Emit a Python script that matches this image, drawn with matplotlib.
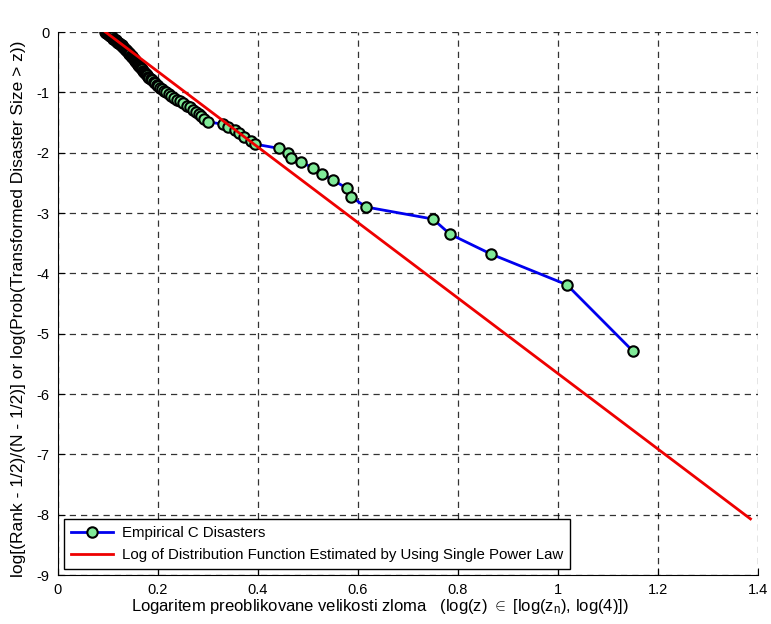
import matplotlib
matplotlib.use('Agg')
import matplotlib.pyplot as plt

plt.rcParams['font.family'] = ['Liberation Sans', 'DejaVu Sans']
plt.rcParams['mathtext.fontset'] = 'custom'
plt.rcParams['mathtext.rm'] = 'Liberation Sans'
plt.rcParams['mathtext.it'] = 'Liberation Sans'
plt.rcParams['axes.unicode_minus'] = False

# empirical points, largest rank (smallest disaster) first
log_z = [0.095, 0.097, 0.098, 0.100, 0.101, 0.103, 0.104, 0.106, 0.108, 0.109,
         0.111, 0.112, 0.114, 0.116, 0.117, 0.119, 0.121, 0.122, 0.124, 0.126,
         0.128, 0.129, 0.131, 0.133, 0.134, 0.136, 0.137, 0.139, 0.140, 0.142,
         0.143, 0.145, 0.146, 0.148, 0.149, 0.151, 0.152, 0.154, 0.155, 0.157,
         0.158, 0.160, 0.161, 0.163, 0.165, 0.166, 0.168, 0.170, 0.172, 0.174,
         0.176, 0.178, 0.180, 0.183, 0.186, 0.189, 0.192, 0.195, 0.198, 0.201,
         0.204, 0.208, 0.212, 0.217, 0.222, 0.227, 0.233, 0.239, 0.245, 0.251,
         0.258, 0.265, 0.271, 0.277, 0.282, 0.287, 0.292, 0.301, 0.331, 0.340,
         0.355, 0.362, 0.372, 0.386, 0.395, 0.443, 0.461, 0.466, 0.487, 0.510,
         0.528, 0.551, 0.578, 0.586, 0.616, 0.750, 0.784, 0.866, 1.018, 1.150]
log_p = [0.00, -0.01, -0.02, -0.03, -0.04, -0.05, -0.06, -0.07, -0.08, -0.09,
         -0.11, -0.12, -0.13, -0.14, -0.15, -0.16, -0.18, -0.19, -0.20, -0.21,
         -0.22, -0.24, -0.25, -0.26, -0.28, -0.29, -0.30, -0.32, -0.33, -0.34,
         -0.36, -0.37, -0.39, -0.40, -0.42, -0.43, -0.45, -0.47, -0.48, -0.50,
         -0.51, -0.53, -0.55, -0.57, -0.58, -0.60, -0.62, -0.64, -0.66, -0.68,
         -0.70, -0.72, -0.74, -0.76, -0.78, -0.80, -0.83, -0.85, -0.87, -0.90,
         -0.92, -0.95, -0.98, -1.00, -1.03, -1.06, -1.09, -1.12, -1.15, -1.18,
         -1.22, -1.25, -1.29, -1.32, -1.36, -1.40, -1.44, -1.49, -1.53, -1.58,
         -1.63, -1.68, -1.74, -1.80, -1.86, -1.93, -2.00, -2.08, -2.16, -2.25,
         -2.35, -2.46, -2.59, -2.73, -2.90, -3.10, -3.35, -3.68, -4.19, -5.29]

# single power law fit (straight line in log-log)
fit_x = [0.095, 1.385]
fit_y = [0.0, -8.07]

xticks = [0, 0.2, 0.4, 0.6, 0.8, 1.0, 1.2, 1.4]
xticklabels = ['0', '0.2', '0.4', '0.6', '0.8', '1', '1.2', '1.4']
yticks = [0, -1, -2, -3, -4, -5, -6, -7, -8, -9]
yticklabels = ['0', '-1', '-2', '-3', '-4', '-5', '-6', '-7', '-8', '-9']

fig = plt.figure(figsize=(7.71, 6.24), dpi=100)
ax = fig.add_axes([0.0752, 0.0785, 0.9079, 0.8702])

ax.plot(log_z, log_p, color='#0000ee', lw=2, marker='o', ms=7.5,
        mfc='#80ea98', mec='black', mew=1.5, label='Empirical C Disasters')
ax.plot(fit_x, fit_y, color='#ee0000', lw=2,
        label='Log of Distribution Function Estimated by Using Single Power Law')

ax.set_xlim(0, 1.4)
ax.set_ylim(-9, 0)
ax.set_xticks(xticks)
ax.set_xticklabels(xticklabels)
ax.set_yticks(yticks)
ax.set_yticklabels(yticklabels)
ax.tick_params(direction='in', length=5, labelsize=10.5, pad=6)
ax.spines['top'].set_visible(False)
ax.spines['right'].set_visible(False)
ax.grid(True, color='black', linestyle=(0, (5, 4)), lw=0.9, alpha=0.8)
ax.set_axisbelow(True)

ax.set_xlabel(r'Logaritem preoblikovane velikosti zloma   (log(z) $\in$ [log(z$_{\rm n}$), log(4)])',
              fontsize=12)
ax.xaxis.set_label_coords(0.46, -0.04)
ax.set_ylabel('log[(Rank - 1/2)/(N - 1/2)] or log(Prob(Transformed Disaster Size > z))',
              fontsize=12.5)
ax.yaxis.set_label_coords(-0.045, 0.49)

leg = ax.legend(loc='lower left', fontsize=10.8, frameon=True, fancybox=False,
                borderaxespad=0.4, handlelength=2.8, handletextpad=0.6,
                borderpad=0.45, labelspacing=0.55)
leg.get_frame().set_edgecolor('black')
leg.get_frame().set_linewidth(1)
leg.get_frame().set_alpha(1)

fig.savefig('out.png', dpi=100)
